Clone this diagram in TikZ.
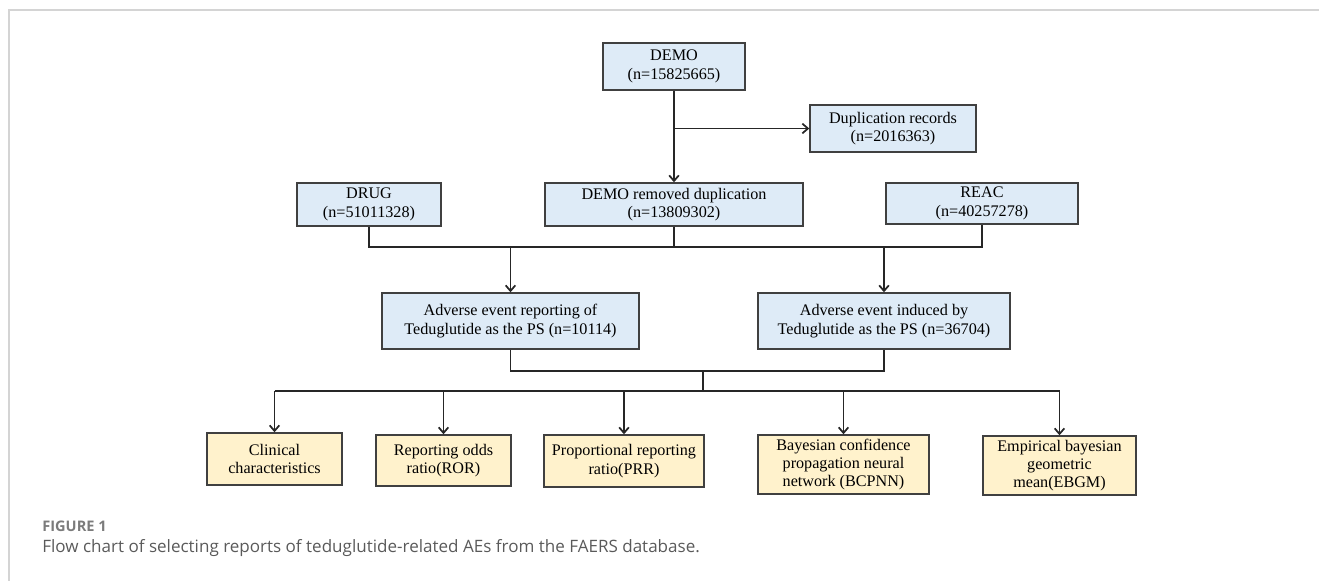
\documentclass[tikz,border=0pt]{standalone}
\usepackage{fontspec}
\setmainfont{Liberation Serif}
\newfontfamily\capfont{Open Sans}
\usepackage{tikz}
\usetikzlibrary{positioning}
\usetikzlibrary{arrows.meta}
\definecolor{boxblue}{HTML}{DEEBF7}
\definecolor{boxyellow}{HTML}{FFF2CC}
\definecolor{boxline}{HTML}{404040}
\definecolor{capgray}{HTML}{5A5A5A}
\definecolor{framegray}{HTML}{D4D4D4}
\tikzset{blue node/.style={rectangle,draw=boxline,fill=boxblue,line width=0.8pt,align=center,inner sep=0pt,font=\fontsize{9.2}{10.4}\selectfont},
  yellow node/.style={blue node,fill=boxyellow},
  link/.style={line width=1pt,draw=black!85},
  flow/.style={link,-{Straight Barb[length=3.2pt,width=5.5pt]}},}

\begin{document}
\begin{tikzpicture}[x=0.02cm,y=-0.02cm]
    \useasboundingbox (0,0) rectangle (1319,581);
    \draw[framegray,line width=1.1pt] (1319,10) -- (9,10) -- (9,581);

    \node[blue node,minimum width=2.84cm,minimum height=0.94cm] (demo) at (674,66.5) {DEMO\\(n=15825665)};
    \node[blue node,minimum width=3.32cm,minimum height=0.94cm] (dup) at (893,128.5) {Duplication records\\(n=2016363)};
    \node[blue node,minimum width=2.88cm,minimum height=0.86cm] (drug) at (369,204.5) {DRUG\\(n=51011328)};
    \node[blue node,minimum width=5.16cm,minimum height=0.86cm] (demorm) at (674,204.5) {DEMO removed duplication\\(n=13809302)};
    \node[blue node,minimum width=3.84cm,minimum height=0.82cm] (reac) at (982,203.5) {REAC\\(n=40257278)};
    \node[blue node,minimum width=5.14cm,minimum height=1.12cm] (ae1) at (510.5,321) {Adverse event reporting of\\Teduglutide as the PS (n=10114)};
    \node[blue node,minimum width=5.04cm,minimum height=1.12cm] (ae2) at (884,321) {Adverse event induced by\\Teduglutide as the PS (n=36704)};

    \node[yellow node,minimum width=2.70cm,minimum height=1.04cm] (clin) at (274.5,459) {Clinical\\characteristics};
    \node[yellow node,minimum width=2.70cm,minimum height=1.02cm] (ror) at (443.5,460.5) {Reporting odds\\ratio(ROR)};
    \node[yellow node,minimum width=3.20cm,minimum height=1.04cm] (prr) at (624,461) {Proportional reporting\\ratio(PRR)};
    \node[yellow node,minimum width=3.42cm,minimum height=1.18cm] (bcp) at (843.5,464.5) {Bayesian confidence\\propagation neural\\network (BCPNN)};
    \node[yellow node,minimum width=3.06cm,minimum height=1.18cm] (ebgm) at (1059.5,465.5) {Empirical bayesian\\geometric\\mean(EBGM)};

    % junctions
    \coordinate (split) at (demo.south |- dup.west);
    \coordinate (join1) at (674,247);
    \coordinate (join2) at (703,371);
    \coordinate (join3) at (703,391);

    \draw[flow] (demo.south) -- (demorm.north);
    \draw[flow] (split) -- (dup.west);
    \draw[link] (drug.south) |- (join1) -| (reac.south);
    \draw[link] (demorm.south) -- (join1);
    \draw[flow] (ae1.north |- join1) -- (ae1.north);
    \draw[flow] (ae2.north |- join1) -- (ae2.north);
    \draw[link] (ae1.south) |- (join2) -| (ae2.south);
    \draw[link] (join2) -- (join3);
    \draw[link] (clin.north |- join3) -- (ebgm.north |- join3);
    \foreach \n in {clin,ror,prr,bcp,ebgm}
        \draw[flow] (\n.north |- join3) -- (\n.north);

    \node[anchor=base west,inner sep=0pt,text=capgray!80] (figlabel) at (42,531) {\capfont\fontsize{8.3}{10}\selectfont\bfseries FIGURE 1};
    \node[anchor=base west,inner sep=0pt,text=capgray] (figcap) at (42,552) {\capfont\fontsize{9.7}{11}\selectfont Flow chart of selecting reports of teduglutide-related AEs from the FAERS database.};
\end{tikzpicture}
\end{document}
